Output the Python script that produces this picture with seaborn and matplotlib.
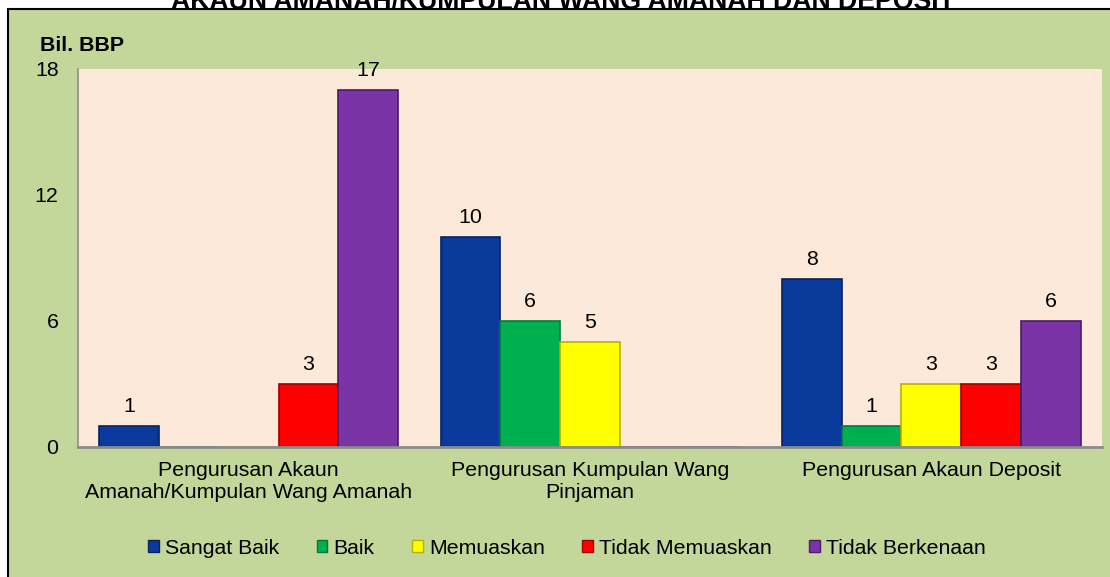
import pandas as pd
import matplotlib
matplotlib.use("Agg")
import matplotlib.pyplot as plt
from matplotlib.patches import Rectangle, Patch
import seaborn as sns

# data
kategori = ['Pengurusan Akaun\nAmanah/Kumpulan Wang Amanah',
            'Pengurusan Kumpulan Wang\nPinjaman',
            'Pengurusan Akaun Deposit']
tahap = ['Sangat Baik', 'Baik', 'Memuaskan', 'Tidak Memuaskan', 'Tidak Berkenaan']
sangat_baik = [1, 10, 8]
baik = [0, 6, 1]
memuaskan = [0, 5, 3]
tidak_memuaskan = [3, 0, 3]
tidak_berkenaan = [17, 0, 6]
warna = ['#0A3A9C', '#00B050', '#FFFF00', '#FF0000', '#7A34A6']
tepi = ['#06245E', '#007A38', '#B3B300', '#A00000', '#4A1C68']

siri = [sangat_baik, baik, memuaskan, tidak_memuaskan, tidak_berkenaan]
rows = []
for t, nilai in zip(tahap, siri):
    for k, v in zip(kategori, nilai):
        rows.append({'Kategori': k, 'Tahap': t, 'Bil': v})
df = pd.DataFrame(rows)

sns.set_style('white')
plt.rcParams['font.family'] = ['Liberation Sans', 'DejaVu Sans']
plt.rcParams['text.color'] = 'black'
plt.rcParams['xtick.color'] = 'black'
plt.rcParams['ytick.color'] = 'black'

fs = 15.4

fig = plt.figure(figsize=(11.1, 5.77), dpi=100, facecolor='white')
# green panel with black border (top and left visible)
panel = Rectangle((8 / 1110, -0.05), 1.1, 1 - 9 / 577 + 0.05,
                  transform=fig.transFigure, facecolor='#C4D79B',
                  edgecolor='black', linewidth=1.5, zorder=-5)
fig.patches.append(panel)

fig.text(563 / 1110, 1 - 9 / 577, 'AKAUN AMANAH/KUMPULAN WANG AMANAH DAN DEPOSIT',
         ha='center', va='baseline', fontsize=19.2, fontweight='bold')

ax = fig.add_axes([78 / 1110, 1 - 447 / 577, 1024 / 1110, 378 / 577])
ax.set_zorder(2)
ax.set_facecolor('#FDE9D9')

sns.barplot(data=df, x='Kategori', y='Bil', hue='Tahap', hue_order=tahap,
            palette=warna, width=0.875, saturation=1, legend=False, ax=ax)

for i, bars in enumerate(ax.containers):
    for b in bars:
        b.set_edgecolor(tepi[i])
        b.set_linewidth(1.2)
    labels = [str(v) if v > 0 else '' for v in siri[i]]
    ax.bar_label(bars, labels=labels, padding=7, fontsize=fs)

ax.set_ylim(0, 18)
ax.set_yticks([0, 6, 12, 18])
ax.set_xlim(-0.5, 2.5)
ax.set_xlabel('')
ax.set_ylabel('')
ax.tick_params(axis='y', length=0, pad=14, labelsize=fs)
ax.tick_params(axis='x', length=0, pad=10, labelsize=fs)
for s in ['top', 'right']:
    ax.spines[s].set_visible(False)
ax.spines['left'].set_color('#8C8C8C')
ax.spines['left'].set_linewidth(1.2)
ax.spines['bottom'].set_color('#8C8C8C')
ax.spines['bottom'].set_linewidth(2)

fig.text(40 / 1110, 1 - 51 / 577, 'Bil. BBP', ha='left', va='baseline',
         fontsize=fs, fontweight='bold')

handles = [Patch(facecolor=c, edgecolor=e, linewidth=1) for c, e in zip(warna, tepi)]
fig.legend(handles, tahap, loc='center', bbox_to_anchor=(567 / 1110, 1 - 548 / 577),
           ncol=5, frameon=False, fontsize=15.3, handlelength=0.5, handleheight=0.5,
           handletextpad=0.3, columnspacing=1.75)

fig.savefig('out.png', dpi=100, facecolor=fig.get_facecolor())
